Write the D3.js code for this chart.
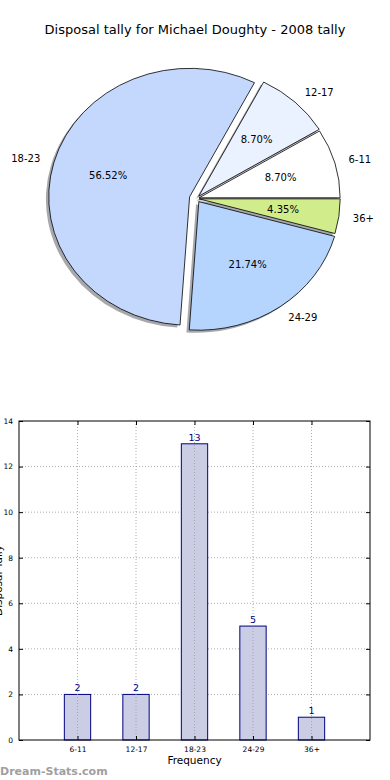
<!DOCTYPE html>
<html>
<head>
<meta charset="utf-8">
<script src="https://cdn.jsdelivr.net/npm/d3@7"></script>
<style>
  body { margin: 0; background: #fff; }
  svg { display: block; font-family: "DejaVu Sans", sans-serif; }
</style>
</head>
<body>
<div class="chart"></div>
<script>
var categories = ["6-11", "12-17", "18-23", "24-29", "36+"],
    counts = [2, 2, 13, 5, 1],
    sliceColors = ["#ffffff", "#eaf1ff", "#c4d8fe", "#b5d5fe", "#d0ec8b"],
    explode = [0.02, 0.025, 0.05, 0.03, 0.02],
    yTicks = [0, 2, 4, 6, 8, 10, 12, 14],
    titleText = "Disposal tally for Michael Doughty - 2008 tally";

var W = 390, H = 780;

var svg = d3.select(".chart").append("svg")
    .attr("width", W)
    .attr("height", H);

// Title
svg.append("text")
    .attr("x", 195)
    .attr("y", 34)
    .attr("text-anchor", "middle")
    .style("font-size", "13px")
    .style("fill", "#000")
    .text(titleText);

// ---------- Pie (matplotlib style, elliptical, counter-clockwise from east)
var pie = { cx: 196.4, cy: 198.5, rx: 141, ry: 128.5 },
    total = d3.sum(counts),
    pctFormat = d3.format(".2f");

var arcs = d3.pie().sort(null)
    .startAngle(Math.PI / 2)
    .endAngle(Math.PI / 2 - 2 * Math.PI)(counts);

var arc = d3.arc().innerRadius(0).outerRadius(1);

var pieG = svg.append("g").attr("class", "pie");

arcs.forEach(function(d, i) {
  var mid = (d.startAngle + d.endAngle) / 2;
  d.mid = mid;
  d.ox = pie.cx + Math.sin(mid) * explode[i] * pie.rx;
  d.oy = pie.cy - Math.cos(mid) * explode[i] * pie.ry;
});

// shadows first
pieG.selectAll(".shadow")
    .data(arcs)
  .enter().append("path")
    .attr("class", "shadow")
    .attr("transform", function(d) {
      return "translate(" + (d.ox - 0.02 * pie.rx) + "," + (d.oy + 0.02 * pie.ry) + ") scale(" + pie.rx + "," + pie.ry + ")";
    })
    .attr("d", arc)
    .style("fill", "#3a3e48")
    .style("fill-opacity", 0.45)
    .style("stroke", "none");

pieG.selectAll(".wedge")
    .data(arcs)
  .enter().append("path")
    .attr("class", "wedge")
    .attr("transform", function(d) {
      return "translate(" + d.ox + "," + d.oy + ") scale(" + pie.rx + "," + pie.ry + ")";
    })
    .attr("d", arc)
    .attr("vector-effect", "non-scaling-stroke")
    .style("fill", function(d, i) { return sliceColors[i]; })
    .style("stroke", "#000")
    .style("stroke-width", 0.8);

// category labels at 1.1 r
pieG.selectAll(".plabel")
    .data(arcs)
  .enter().append("text")
    .attr("class", "plabel")
    .attr("x", function(d) { return d.ox + 1.1 * pie.rx * Math.sin(d.mid); })
    .attr("y", function(d) { return d.oy - 1.1 * pie.ry * Math.cos(d.mid); })
    .attr("dy", "0.35em")
    .attr("text-anchor", function(d) { return Math.sin(d.mid) > 0 ? "start" : "end"; })
    .style("font-size", "10px")
    .text(function(d, i) { return categories[i]; });

// percentages at 0.6 r
pieG.selectAll(".pct")
    .data(arcs)
  .enter().append("text")
    .attr("class", "pct")
    .attr("x", function(d) { return d.ox + 0.6 * pie.rx * Math.sin(d.mid); })
    .attr("y", function(d) { return d.oy - 0.6 * pie.ry * Math.cos(d.mid); })
    .attr("dy", "0.35em")
    .attr("text-anchor", "middle")
    .style("font-size", "10px")
    .text(function(d) { return pctFormat(d.value / total * 100) + "%"; });

// ---------- Bar chart
var plot = { left: 19, right: 370, top: 421, bottom: 740 };

var xScale = d3.scalePoint()
    .domain(categories)
    .range([plot.left, plot.right])
    .padding(1);

var yScale = d3.scaleLinear()
    .domain([0, 14])
    .range([plot.bottom, plot.top]);

var barW = 0.45 * xScale.step();

var bar = svg.append("g").attr("class", "bars");

// grid
bar.selectAll(".hgrid")
    .data(yTicks.slice(1, -1))
  .enter().append("line")
    .attr("class", "hgrid")
    .attr("x1", plot.left).attr("x2", plot.right)
    .attr("y1", function(d) { return yScale(d); })
    .attr("y2", function(d) { return yScale(d); })
    .style("stroke", "#999")
    .style("stroke-width", 0.8)
    .style("stroke-dasharray", "1,2");

// bars
bar.selectAll(".bar")
    .data(counts)
  .enter().append("rect")
    .attr("class", "bar")
    .attr("x", function(d, i) { return xScale(categories[i]) - barW / 2; })
    .attr("y", function(d) { return yScale(d); })
    .attr("width", barW)
    .attr("height", function(d) { return yScale(0) - yScale(d); })
    .style("fill", "#cbcde4")
    .style("stroke", "#000080")
    .style("stroke-width", 1);

// vertical grid drawn over the bars, like the original
bar.selectAll(".vgrid")
    .data(categories)
  .enter().append("line")
    .attr("class", "vgrid")
    .attr("x1", function(d) { return xScale(d); })
    .attr("x2", function(d) { return xScale(d); })
    .attr("y1", plot.top).attr("y2", plot.bottom)
    .style("stroke", "#999")
    .style("stroke-width", 0.8)
    .style("stroke-dasharray", "1,2");

bar.selectAll(".val")
    .data(counts)
  .enter().append("text")
    .attr("class", "val")
    .attr("x", function(d, i) { return xScale(categories[i]); })
    .attr("y", function(d) { return yScale(d) - 3; })
    .attr("text-anchor", "middle")
    .style("font-size", "9.5px")
    .style("fill", "#000080")
    .text(function(d) { return d; });

// frame
bar.append("rect")
    .attr("x", plot.left).attr("y", plot.top)
    .attr("width", plot.right - plot.left)
    .attr("height", plot.bottom - plot.top)
    .style("fill", "none")
    .style("stroke", "#000")
    .style("stroke-width", 1);

// axes (ticks inside, mirrored)
var yAxis = d3.axisLeft(yScale).tickValues(yTicks).tickSizeInner(-4).tickSizeOuter(0).tickPadding(6);
var yAxisR = d3.axisRight(yScale).tickValues(yTicks).tickSizeInner(-4).tickSizeOuter(0).tickFormat("");
var xAxis = d3.axisBottom(xScale).tickSizeInner(-4).tickSizeOuter(0).tickPadding(7);
var xAxisT = d3.axisTop(xScale).tickSizeInner(-4).tickSizeOuter(0).tickFormat("");

function styleAxis(g) {
  g.select(".domain").remove();
  g.selectAll("text").style("font-size", "7.5px").style("font-family", "DejaVu Sans, sans-serif").style("fill", "#000");
  g.selectAll("line").style("stroke", "#000");
}

svg.append("g").attr("transform", "translate(" + plot.left + ",0)").call(yAxis).call(styleAxis);
svg.append("g").attr("transform", "translate(" + plot.right + ",0)").call(yAxisR).call(styleAxis);
svg.append("g").attr("transform", "translate(0," + plot.bottom + ")").call(xAxis).call(styleAxis);
svg.append("g").attr("transform", "translate(0," + plot.top + ")").call(xAxisT).call(styleAxis);

// axis labels
svg.append("text")
    .attr("x", (plot.left + plot.right) / 2)
    .attr("y", 764)
    .attr("text-anchor", "middle")
    .style("font-size", "10.5px")
    .text("Frequency");

// y label sits half off the left edge, as in the original
svg.append("text")
    .attr("transform", "translate(2," + (plot.top + plot.bottom) / 2 + ") rotate(-90)")
    .attr("text-anchor", "middle")
    .style("font-size", "10.5px")
    .text("Disposal Tally");

// watermark
svg.append("text")
    .attr("x", 0)
    .attr("y", 775)
    .style("font-size", "11px")
    .style("font-weight", "bold")
    .style("fill", "#a0a0a0")
    .text("Dream-Stats.com");
</script>
</body>
</html>
